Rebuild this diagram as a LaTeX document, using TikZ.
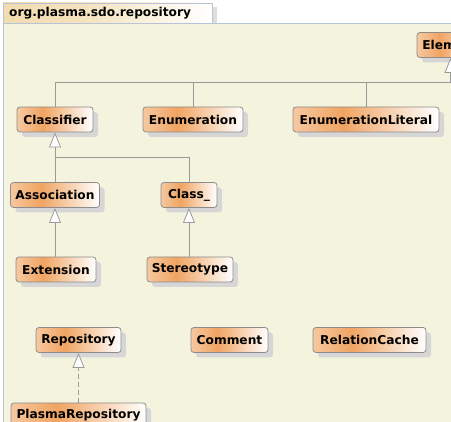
\documentclass[tikz,border=0pt]{standalone}
\usepackage{fontspec}
\setmainfont{DejaVu Sans}
\usetikzlibrary{arrows.meta,shadows}
\definecolor{pkgfill}{HTML}{F4F4DE}
\definecolor{pkgline}{HTML}{B8C2D8}
\definecolor{nodeline}{HTML}{8C8C8C}
\definecolor{oA}{HTML}{F6C8A0}
\definecolor{oB}{HTML}{F0A462}
\definecolor{tA}{HTML}{F2DCB0}
\definecolor{edgec}{HTML}{9A9A9A}
\pgfdeclarehorizontalshading{clsshade}{100bp}{color(0bp)=(oA); color(25bp)=(oA); color(42bp)=(oB); color(75bp)=(white); color(100bp)=(white)}
\pgfdeclarehorizontalshading{tabshade}{100bp}{color(0bp)=(tA); color(25bp)=(tA); color(45bp)=(tA!80!white); color(75bp)=(white); color(100bp)=(white)}
\tikzset{
  cls/.style={draw=nodeline, line width=0.8pt, rounded corners=3pt, shading=clsshade,
    minimum height=25pt, inner sep=0pt, text=black,
    font=\fontsize{12.2}{14}\selectfont\bfseries,
    drop shadow={shadow xshift=5pt, shadow yshift=-5pt, fill=black!16, opacity=1}},
  edge/.style={draw=edgec, line width=0.8pt},
  gen/.style={edge, -{Triangle[open, fill=white, length=15pt, width=12pt]}},
}
\begin{document}
\begin{tikzpicture}[x=1pt, y=-1pt]
\useasboundingbox (0,0) rectangle (451,422);
\clip (0,0) rectangle (451,422);
\fill[white] (0,0) rectangle (451,422);
% package
\fill[pkgfill] (3,23) rectangle (470,440);
\draw[pkgline, line width=0.8pt] (3,440) |- (470,23);
\fill[black!13] (212,7) rectangle (217,23);
\shade[shading=tabshade] (3,3) rectangle (212,23);
\draw[pkgline, line width=0.8pt] (3,23) |- (212,3) -- (212,23);
\node[anchor=west, inner sep=0pt, font=\fontsize{12.2}{14}\selectfont\bfseries] (title) at (9,13.5) {org.plasma.sdo.repository};
% nodes
\node[cls, minimum width=67pt] (element) at (450.5,45) {Element};
\node[cls, minimum width=76pt] (classifier) at (55,119.5) {Classifier};
\node[cls, minimum width=100pt] (enumeration) at (193,119.5) {Enumeration};
\node[cls, minimum width=146pt] (enumlit) at (366,119.5) {EnumerationLiteral};
\node[cls, minimum width=89pt] (association) at (55,195) {Association};
\node[cls, minimum width=56pt] (class) at (189,195) {Class\_};
\node[cls, minimum width=80pt] (extension) at (56,269.5) {Extension};
\node[cls, minimum width=86pt] (stereotype) at (190,269.5) {Stereotype};
\node[cls, minimum width=85pt] (repository) at (78.5,340) {Repository};
\node[cls, minimum width=77pt] (comment) at (229.5,340) {Comment};
\node[cls, minimum width=113pt] (relcache) at (369.5,340) {RelationCache};
\node[cls, minimum width=135pt] (plasma) at (78.5,415.5) {PlasmaRepository};
% edges
\coordinate (j1) at (450.5,82);
\draw[edge] (classifier.north) |- (j1);
\draw[edge] (enumeration.north) -- (enumeration.north |- j1);
\draw[edge] (enumlit.north) -- (enumlit.north |- j1);
\draw[gen] (j1) -- (element.south);
\coordinate (j2) at (55,157);
\draw[gen] (j2) -- (classifier.south);
\draw[edge] (association.north) -- (j2);
\draw[edge] (class.north) |- (j2);
\draw[gen] (extension.north -| association.south) -- (association.south);
\draw[gen] (stereotype.north -| class.south) -- (class.south);
\draw[gen, dash pattern=on 5pt off 3pt] (plasma.north -| repository.south) -- (repository.south);
\end{tikzpicture}
\end{document}
